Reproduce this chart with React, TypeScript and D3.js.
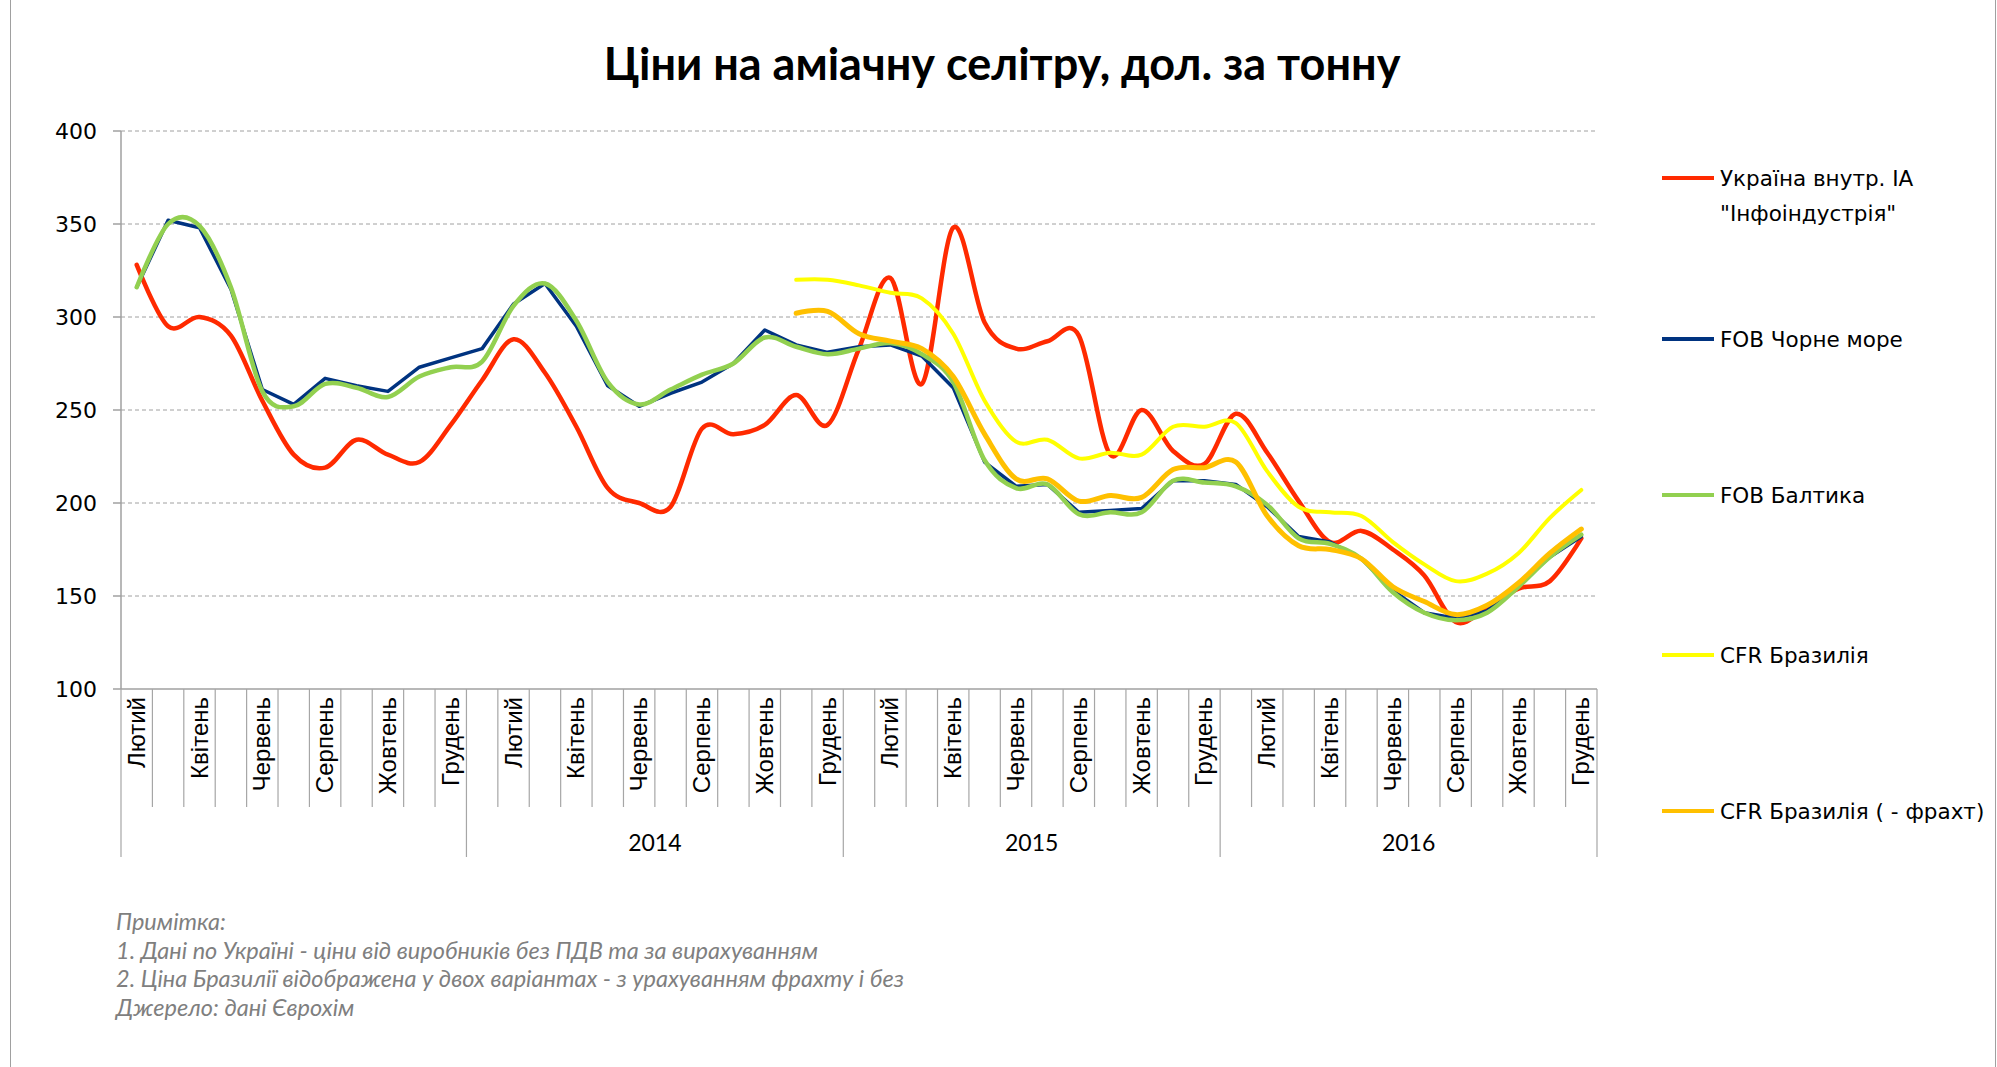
import React from "react";
import * as d3 from "d3";

const monthNames = ["Січень", "Лютий", "Березень", "Квітень", "Травень", "Червень", "Липень", "Серпень", "Вересень", "Жовтень", "Листопад", "Грудень"];
const yearLabels = ["", "2014", "2015", "2016"];
const yearFirstMonth = [1, 0, 0, 0];
const yearMonthCount = [11, 12, 12, 12];

const yTicks = [100, 150, 200, 250, 300, 350, 400];

const ukraine = [328, 295, 300, 290, 255, 226, 219, 234, 226, 222, 242, 266, 288, 270, 241, 208, 200, 198, 240, 237, 242, 258, 242, 283, 321, 264, 348, 297, 283, 287, 290, 226, 250, 228, 221, 248, 227, 201, 179, 185, 175, 161, 136, 144, 154, 158, 181];
const fobBlackSea = [316, 352, 348, 315, 261, 253, 267, 263, 260, 273, 278, 283, 307, 318, 295, 263, 252, 259, 265, 275, 293, 285, 281, 284, 285, 279, 262, 222, 209, 210, 195, 196, 197, 212, 212, 210, 198, 182, 179, 170, 153, 141, 138, 142, 156, 171, 182];
const fobBaltic = [316, 350, 349, 316, 260, 252, 264, 262, 257, 268, 273, 276, 306, 318, 298, 265, 253, 261, 269, 275, 289, 284, 280, 283, 286, 280, 265, 223, 208, 210, 194, 195, 195, 212, 211, 209, 199, 181, 178, 170, 152, 141, 137, 141, 155, 171, 183];
const cfrBrazil: (number | null)[] = [null, null, null, null, null, null, null, null, null, null, null, null, null, null, null, null, null, null, null, null, null, 320, 320, 317, 313, 310, 291, 255, 233, 234, 224, 227, 226, 241, 241, 243, 217, 198, 195, 193, 179, 167, 158, 162, 173, 192, 207];
const cfrBrazilNoFreight: (number | null)[] = [null, null, null, null, null, null, null, null, null, null, null, null, null, null, null, null, null, null, null, null, null, 302, 303, 291, 287, 283, 268, 237, 213, 213, 201, 204, 203, 218, 219, 222, 193, 177, 175, 170, 155, 147, 140, 145, 157, 173, 186];

const seriesNames = [["Україна внутр. ІА", "\"Інфоіндустрія\""], ["FOB Чорне море"], ["FOB Балтика"], ["CFR Бразилія"], ["CFR Бразилія ( - фрахт)"]];
const seriesColors = ["#FF2A00", "#003380", "#92D050", "#FFFF00", "#FFC000"];
const seriesWidths = [4.5, 3.5, 4.5, 4, 5];
const seriesSmooth = [true, false, true, true, true];

const title = "Ціни на аміачну селітру, дол. за тонну";
const notes = [
  "Примітка:",
  "1. Дані по Україні - ціни від виробників без ПДВ та за вирахуванням",
  "2. Ціна Бразилії відображена у двох варіантах - з урахуванням фрахту і без",
  "Джерело: дані Єврохім",
];

type Cat = { month: string; group: number };
const categories: Cat[] = [];
yearLabels.forEach((_, g) => {
  for (let k = 0; k < yearMonthCount[g]; k++) {
    categories.push({ month: monthNames[yearFirstMonth[g] + k], group: g });
  }
});

export default function App() {
  const W = 1997, H = 1067;
  const left = 121, right = 1597, top = 131, bottom = 689;
  const x = d3.scaleBand<number>().domain(categories.map((_, i) => i)).range([left, right]).padding(0);
  const bw = x.bandwidth();
  const y = d3.scaleLinear().domain([100, 400]).range([bottom, top]);
  const allSeries = [ukraine, fobBlackSea, fobBaltic, cfrBrazil, cfrBrazilNoFreight];

  const makeLine = (smooth: boolean) =>
    d3.line<number | null>()
      .defined((v) => v != null)
      .x((_, i) => (x(i) as number) + bw / 2)
      .y((v) => y(v as number))
      .curve(smooth ? d3.curveCardinal.tension(0) : d3.curveLinear);

  const groupStarts: number[] = [];
  let acc = 0;
  yearMonthCount.forEach((c) => { groupStarts.push(acc); acc += c; });
  groupStarts.push(acc);

  const legendY = [178, 339, 495, 655, 811];

  return (
    <svg width={W} height={H} style={{ position: "absolute", left: 0, top: 0, background: "#fff" }}>
      <rect x={0} y={0} width={W} height={H} fill="#fff" />
      <line x1={10.5} x2={10.5} y1={0} y2={H} stroke="#a0a0a0" strokeWidth={1} />
      <line x1={1995.5} x2={1995.5} y1={0} y2={H} stroke="#a0a0a0" strokeWidth={1} />
      <text x={1002} y={80} textAnchor="middle" fontFamily="Lato, 'Open Sans', sans-serif" fontWeight="bold" fontSize={45} fill="#000">{title}</text>

      {yTicks.map((t) => (
        <g key={t}>
          {t !== 100 && (
            <line x1={left} x2={right} y1={y(t)} y2={y(t)} stroke="#a0a0a0" strokeWidth={1} strokeDasharray="4,3" />
          )}
          <line x1={left - 8} x2={left} y1={y(t)} y2={y(t)} stroke="#a0a0a0" strokeWidth={1.5} />
          <text x={97} y={y(t)} dy="0.35em" textAnchor="end" fontFamily="'DejaVu Sans', Verdana, sans-serif" fontSize={22} fill="#000">{t}</text>
        </g>
      ))}
      <line x1={left} x2={left} y1={top} y2={bottom} stroke="#a0a0a0" strokeWidth={1.5} />
      <line x1={left} x2={right} y1={bottom} y2={bottom} stroke="#a0a0a0" strokeWidth={1.5} />

      {d3.range(categories.length + 1).map((k) => {
        const xx = left + k * bw;
        const isGroup = groupStarts.includes(k);
        return <line key={k} x1={xx} x2={xx} y1={bottom} y2={isGroup ? 857 : 807} stroke="#a6a6a6" strokeWidth={1.2} />;
      })}
      {categories.map((c, i) =>
        i % 2 === 0 ? (
          <text key={i} transform={`translate(${(x(i) as number) + bw / 2 + 8},${bottom + 8}) rotate(-90)`} textAnchor="end" fontFamily="'Liberation Sans', Arial, sans-serif" fontSize={24} fill="#000">{c.month}</text>
        ) : null
      )}
      {yearLabels.map((lab, g) =>
        lab ? (
          <text key={g} x={left + ((groupStarts[g] + groupStarts[g + 1]) / 2) * bw} y={851} textAnchor="middle" fontFamily="Lato, 'Open Sans', sans-serif" fontSize={23} fill="#000">{lab}</text>
        ) : null
      )}

      {allSeries.map((s, si) => (
        <path key={si} d={makeLine(seriesSmooth[si])(s) || ""} fill="none" stroke={seriesColors[si]} strokeWidth={seriesWidths[si]} strokeLinejoin="round" strokeLinecap="round" />
      ))}

      {seriesNames.map((lines, si) => (
        <g key={si}>
          <line x1={1662} x2={1714} y1={legendY[si]} y2={legendY[si]} stroke={seriesColors[si]} strokeWidth={4} />
          {lines.map((ln, li) => (
            <text key={li} x={1720} y={legendY[si] + 8 + li * 35} fontFamily="'DejaVu Sans', Verdana, sans-serif" fontSize={21.5} fill="#000">{ln}</text>
          ))}
        </g>
      ))}

      {notes.map((n, i) => (
        <text key={i} x={116} y={930 + i * 28.6} fontFamily="Lato, 'Open Sans', sans-serif" fontStyle="italic" fontSize={23.5} fill="#7f7f7f">{n}</text>
      ))}
    </svg>
  );
}
